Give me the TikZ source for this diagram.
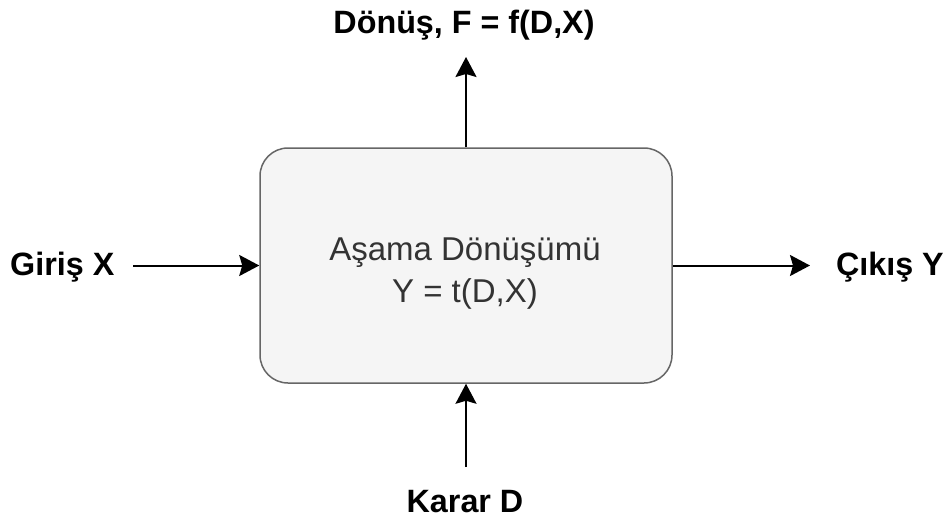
\documentclass[tikz,border=0pt]{standalone}
\usepackage{fontspec}
\setmainfont{Liberation Sans}
\usetikzlibrary{arrows.meta}
\definecolor{boxfill}{HTML}{F5F5F5}
\definecolor{boxline}{HTML}{666666}
\definecolor{boxtext}{HTML}{333333}
\begin{document}
\begin{tikzpicture}[x=1pt,y=-1pt,
  stage/.style={draw=boxline,fill=boxfill,line width=1.5pt,rounded corners=28pt,
    minimum width=412pt,minimum height=235pt},
  stagetext/.style={align=center,text=boxtext,inner sep=0pt,
    font=\fontsize{33}{42}\selectfont},
  lbl/.style={inner sep=0pt,font=\bfseries\fontsize{32.3}{38}\selectfont},
  arr/.style={line width=2pt,-{Stealth[length=20pt,width=21pt,inset=3pt]}}]
\useasboundingbox (0,0) rectangle (952,522);
\node[stage] (box) at (466,265.5) {};
\node[stagetext,anchor=base] (boxlbl) at (465,302) {Aşama Dönüşümü\\Y = t(D,X)};
\node[lbl,anchor=base] (top) at (464,33) {Dönüş, F = f(D,X)};
\node[lbl,anchor=base west] (in) at (10,275) {Giriş X};
\node[lbl,anchor=base east] (out) at (944,275) {Çıkış Y};
\node[lbl,anchor=base] (dec) at (465,512) {Karar D};
\coordinate (topend) at (466,57);
\coordinate (instart) at (133,265.5);
\coordinate (outend) at (810,265.5);
\coordinate (decstart) at (466,467);
\draw[arr] (box.north) -- (topend);
\draw[arr] (instart) -- (box.west);
\draw[arr] (box.east) -- (outend);
\draw[arr] (decstart) -- (box.south);
\end{tikzpicture}
\end{document}
